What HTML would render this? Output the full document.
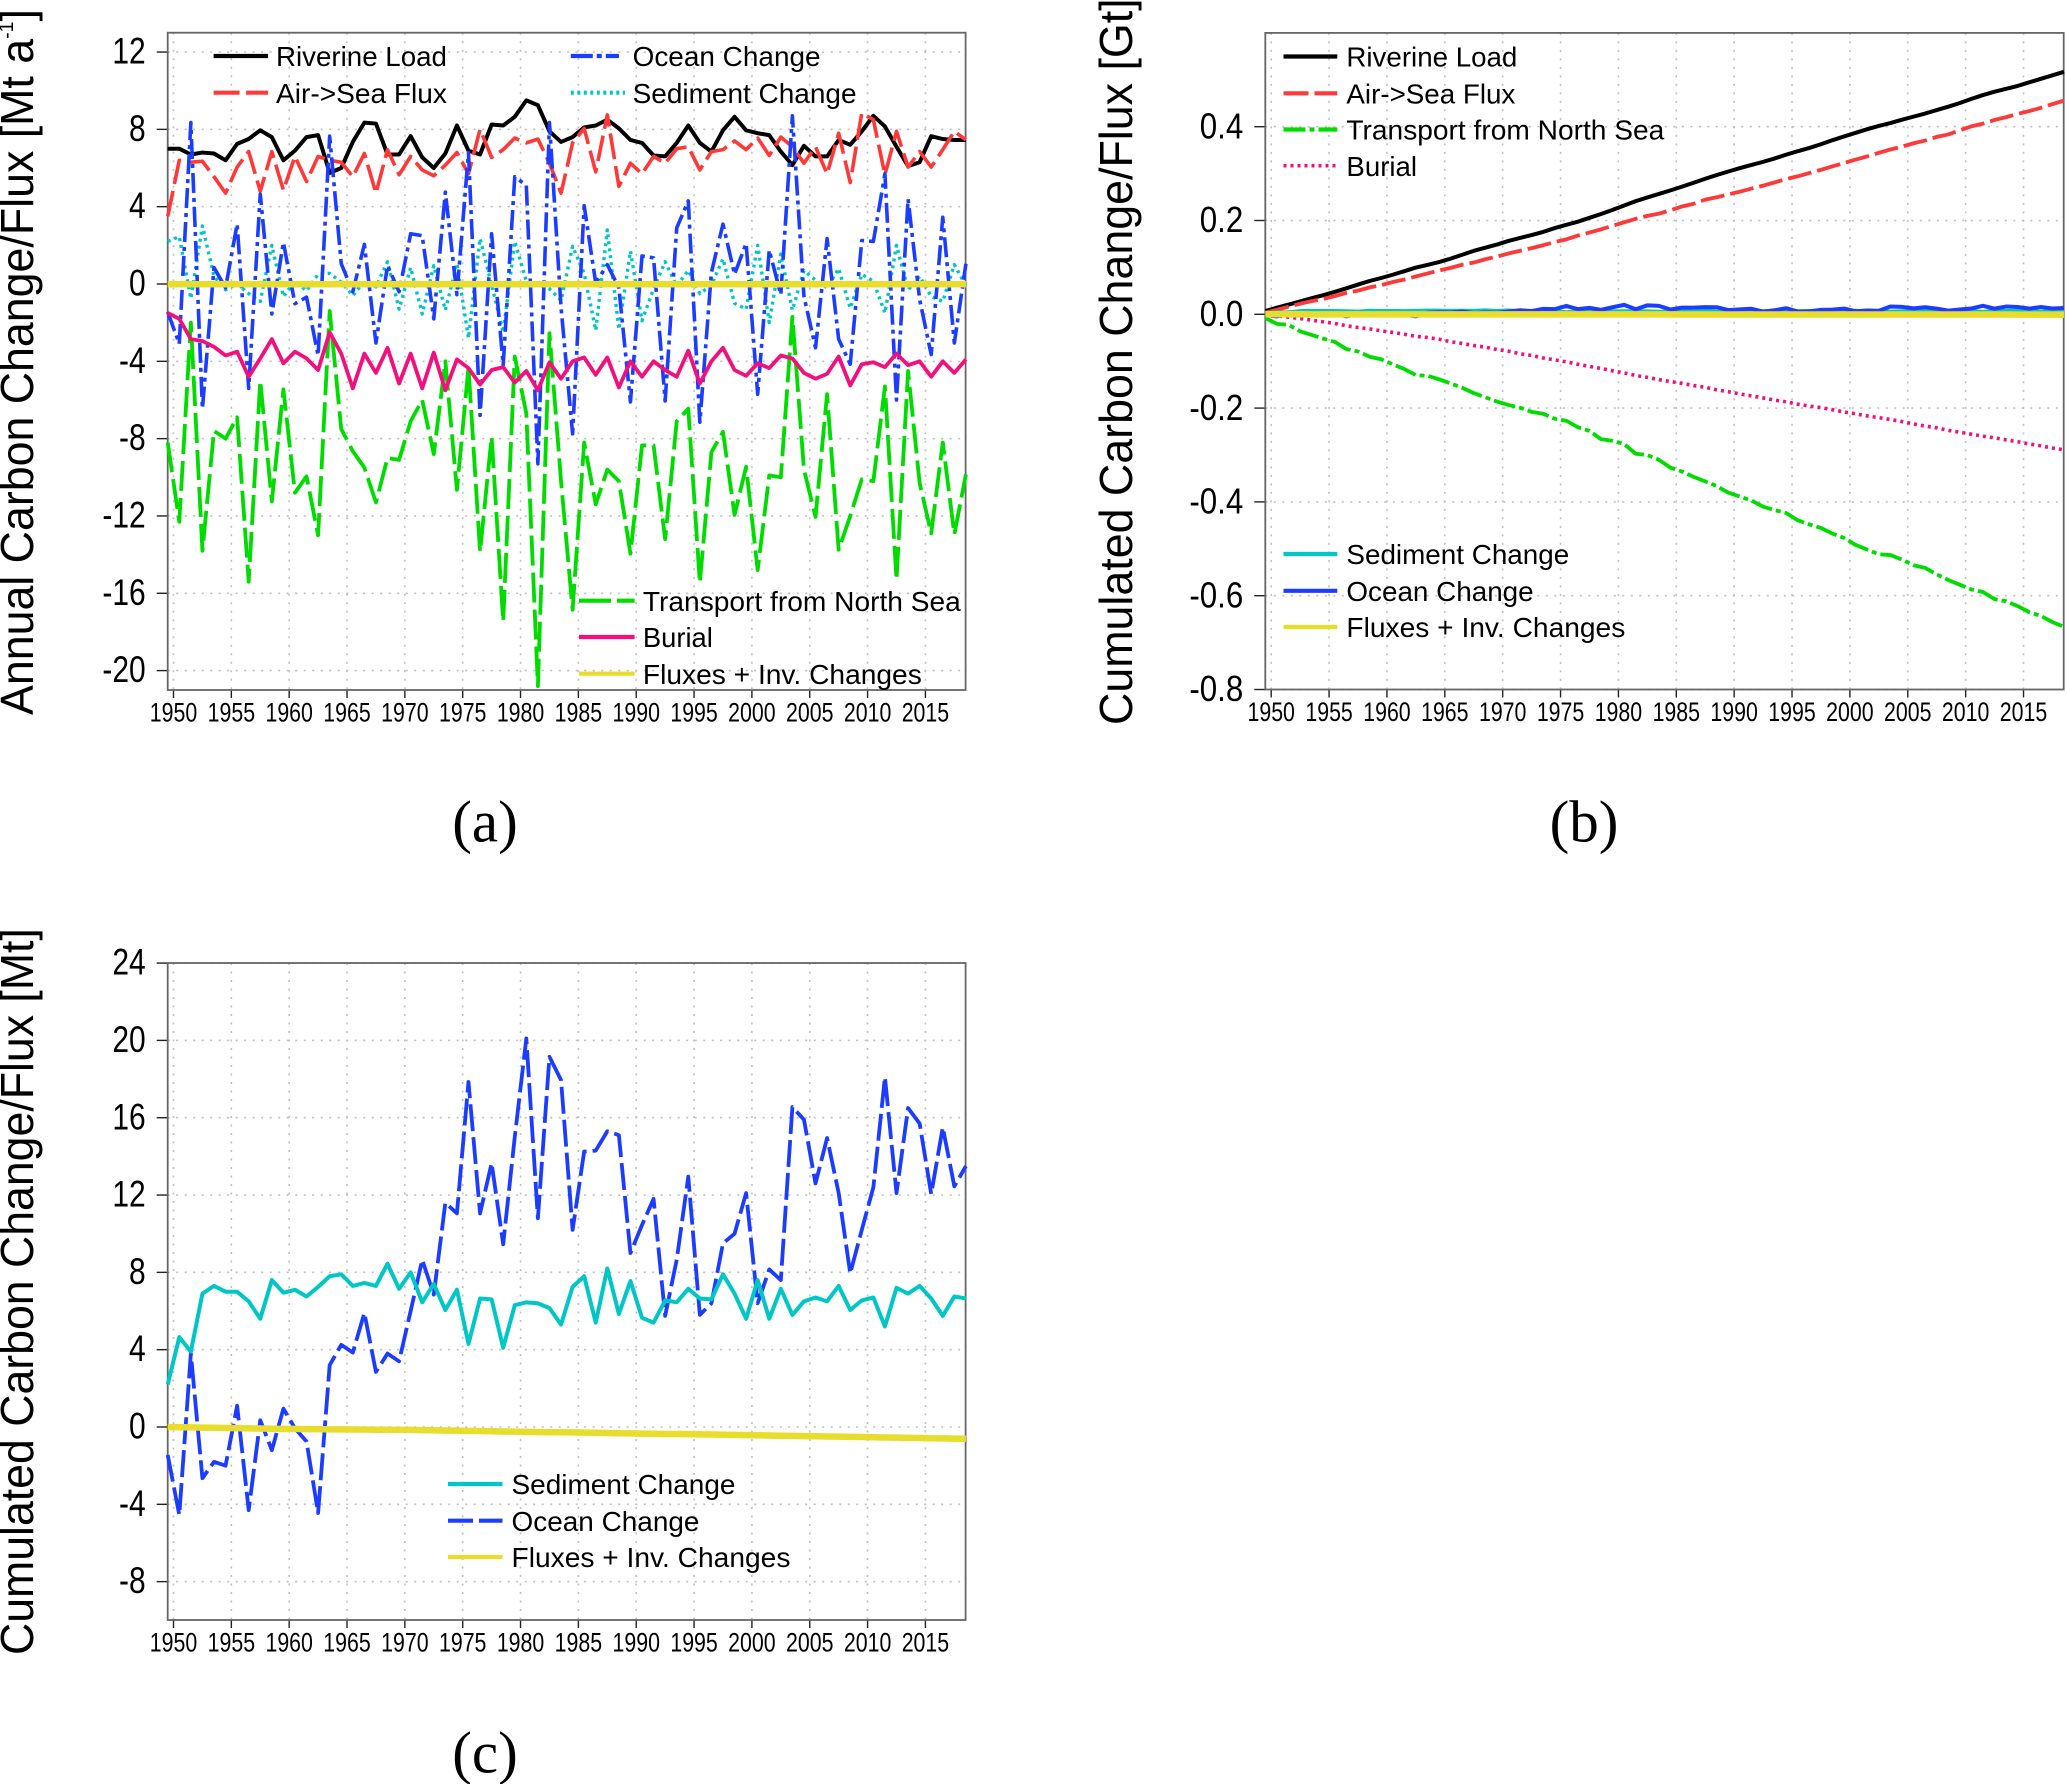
<!DOCTYPE html>
<html>
<head>
<meta charset="utf-8">
<title>Carbon change and flux charts</title>
<style>
html,body{margin:0;padding:0;background:#fff;}
svg{display:block;}
text{font-family:"Liberation Sans",sans-serif;fill:#000;}
.cap{font-family:"Liberation Serif",serif;}
</style>
</head>
<body>
<svg id="figure" xmlns="http://www.w3.org/2000/svg" width="2067" height="1784" viewBox="0 0 2067 1784">
<rect x="0" y="0" width="2067" height="1784" fill="#fff"/>
<text class="cap" x="485" y="841.5" font-size="59" text-anchor="middle">(a)</text>
<text class="cap" x="1584" y="841.5" font-size="59" text-anchor="middle">(b)</text>
<text class="cap" x="485" y="1772.5" font-size="59" text-anchor="middle">(c)</text>
</svg>
<script>
const startYear = 1949.5;
const xTickYears = [1950,1955,1960,1965,1970,1975,1980,1985,1990,1995,2000,2005,2010,2015];
const yTicksA = [12,8,4,0,-4,-8,-12,-16,-20];
const yTicksB = [0.4,0.2,0.0,-0.2,-0.4,-0.6,-0.8];
const yTickLabelsB = ["0.4","0.2","0.0","-0.2","-0.4","-0.6","-0.8"];
const yTicksC = [24,20,16,12,8,4,0,-4,-8];

const annualRiverine = [
7.0,7.0,6.7,6.8,6.75,6.4,7.25,7.5,7.95,7.6,
6.4,6.9,7.6,7.7,5.75,6.0,7.35,8.35,8.3,6.7,
6.7,7.65,6.55,6.0,6.75,8.2,6.9,6.7,8.25,8.2,
8.65,9.5,9.25,7.9,7.35,7.6,8.1,8.2,8.5,8.05,
7.45,7.3,6.65,6.6,7.3,8.2,7.3,6.85,7.95,8.65,
7.95,7.8,7.7,6.85,6.15,7.15,6.6,6.6,7.45,7.2,
7.9,8.7,8.15,7.1,6.1,6.3,7.65,7.5,7.45,7.45];
const annualAir = [
3.5,6.4,6.3,6.35,5.55,4.7,6.05,6.85,4.8,6.85,
4.85,6.6,5.3,6.6,6.4,6.3,5.55,6.75,4.7,6.95,
5.65,6.6,5.9,5.6,6.15,6.8,5.7,8.0,6.55,6.95,
7.55,7.3,7.5,6.25,4.7,7.3,8.05,5.8,8.75,5.05,
6.25,5.7,6.6,6.25,7.0,7.1,5.9,6.85,6.95,7.4,
6.95,7.55,6.65,7.6,7.1,6.25,7.1,5.7,7.8,5.25,
8.85,8.5,5.65,7.9,6.05,6.85,6.05,6.95,7.9,7.45];
const annualOcean = [
-1.45,-3.1,8.35,-6.45,0.85,-0.2,3.1,-5.4,4.65,-1.55,
2.15,-1.02,-0.68,-3.7,7.65,1.05,-0.4,2.05,-3.05,0.95,
-0.4,2.6,2.5,-1.8,4.75,-0.55,6.8,-6.8,2.6,-4.2,
5.55,5.1,-9.3,8.35,-1.2,-7.75,4.05,0.05,1.0,-0.2,
-6.1,1.45,1.35,-6.05,2.9,4.3,-7.15,0.6,3.1,0.5,
2.1,-5.7,1.75,-0.55,8.7,-0.65,-3.3,2.35,-2.85,-4.15,
2.25,2.2,5.7,-6.0,4.4,-0.8,-3.65,3.45,-3.05,1.05];
const annualSediment = [
2.2,2.45,-0.75,3.0,0.4,-0.3,0,-0.5,-0.9,2.0,
-0.65,0.15,-0.35,0.5,0.55,0.1,-0.6,0.15,-0.15,1.15,
-1.3,0.85,-1.55,0.95,-1.35,1.05,-2.8,2.35,-0.05,-2.5,
2.2,0.15,-0.05,-0.25,-0.85,1.95,0.55,-2.4,2.8,-2.35,
1.7,-1.9,-0.25,1.15,-0.1,0.7,-0.5,-0.05,1.3,-1.0,
-1.3,2.0,-2.0,1.55,-1.35,0.7,0.2,-0.2,0.8,-1.25,
0.5,0.15,-1.5,2.0,-0.3,0.4,-0.65,-0.9,1.0,-0.1];
const annualTransport = [
-8.2,-12.3,-2.0,-13.8,-7.6,-8.0,-6.9,-15.4,-5.0,-11.25,
-5.45,-10.8,-9.95,-13.0,-1.4,-7.5,-8.65,-9.5,-11.3,-9.0,
-9.1,-7.1,-6.0,-8.8,-4.0,-10.65,-4.3,-13.85,-7.9,-17.45,
-3.75,-6.7,-20.8,-2.55,-10.2,-16.85,-8.2,-11.4,-9.6,-10.2,
-13.95,-8.35,-8.35,-13.2,-7.1,-6.45,-15.45,-8.7,-7.65,-11.95,
-9.45,-14.8,-9.9,-10.0,-1.7,-9.6,-12.05,-5.7,-13.75,-12.0,
-10.1,-10.2,-5.3,-15.3,-4.5,-10.3,-12.9,-8.2,-12.95,-9.85];
const annualBurial = [
-1.5,-1.8,-2.85,-2.95,-3.25,-3.7,-3.5,-4.8,-3.85,-2.85,
-4.1,-3.5,-3.85,-4.45,-2.5,-3.6,-5.4,-3.6,-4.6,-3.3,
-5.15,-3.6,-5.4,-3.55,-5.5,-3.9,-4.35,-5.2,-4.45,-4.3,
-5.1,-4.5,-5.5,-4.05,-4.9,-4.0,-3.8,-4.7,-3.8,-5.35,
-4.0,-4.8,-4.0,-4.45,-4.8,-3.45,-5.15,-4.0,-3.3,-4.45,
-4.75,-4.1,-4.35,-3.7,-3.85,-4.6,-4.9,-4.65,-3.75,-5.25,
-4.15,-4.05,-4.3,-3.6,-4.2,-4.0,-4.8,-4.0,-4.6,-3.9];
const annualFluxes = [
-0.01,-0.01,-0.01,-0.01,-0.01,-0.01,-0.01,-0.01,-0.01,-0.01,
-0.01,-0.01,-0.01,-0.01,-0.01,-0.01,-0.01,-0.01,-0.01,-0.01,
-0.01,-0.01,-0.01,-0.01,-0.01,-0.01,-0.01,-0.01,-0.01,-0.01,
-0.01,-0.01,-0.01,-0.01,-0.01,-0.01,-0.01,-0.01,-0.01,-0.01,
-0.01,-0.01,-0.01,-0.01,-0.01,-0.01,-0.01,-0.01,-0.01,-0.01,
-0.01,-0.01,-0.01,-0.01,-0.01,-0.01,-0.01,-0.01,-0.01,-0.01,
-0.01,-0.01,-0.01,-0.01,-0.01,-0.01,-0.01,-0.01,-0.01,-0.01];

const cumRiverineGt = [
0.007,0.014,0.0207,0.0275,0.0343,0.0407,0.0479,0.0554,0.0634,0.071,
0.0774,0.0843,0.0919,0.0996,0.1053,0.1113,0.1187,0.127,0.1353,0.142,
0.1487,0.1564,0.1629,0.1689,0.1757,0.1839,0.1908,0.1975,0.2057,0.2139,
0.2226,0.2321,0.2413,0.2492,0.2566,0.2642,0.2723,0.2805,0.289,0.297,
0.3045,0.3118,0.3184,0.325,0.3323,0.3405,0.3478,0.3547,0.3626,0.3713,
0.3792,0.387,0.3947,0.4016,0.4077,0.4149,0.4215,0.4281,0.4355,0.4427,
0.4506,0.4593,0.4675,0.4746,0.4807,0.487,0.4946,0.5021,0.5096,0.517];
const cumAirGt = [
0.0035,0.0099,0.0162,0.0226,0.0281,0.0328,0.0389,0.0457,0.0505,0.0574,
0.0622,0.0688,0.0741,0.0807,0.0871,0.0934,0.099,0.1057,0.1104,0.1174,
0.123,0.1296,0.1355,0.1411,0.1473,0.1541,0.1598,0.1678,0.1743,0.1813,
0.1888,0.1961,0.2036,0.2099,0.2146,0.2219,0.2299,0.2357,0.2445,0.2495,
0.2558,0.2615,0.2681,0.2743,0.2813,0.2884,0.2943,0.3012,0.3081,0.3155,
0.3225,0.33,0.3367,0.3443,0.3514,0.3576,0.3647,0.3704,0.3782,0.3835,
0.3923,0.4008,0.4065,0.4144,0.4204,0.4273,0.4333,0.4403,0.4482,0.4556];
const cumTransportGt = [
-0.0082,-0.0205,-0.0225,-0.0363,-0.0439,-0.0519,-0.0588,-0.0742,-0.0792,-0.0905,
-0.0959,-0.1067,-0.1167,-0.1297,-0.1311,-0.1386,-0.1472,-0.1567,-0.168,-0.177,
-0.1861,-0.1932,-0.1992,-0.208,-0.212,-0.2227,-0.227,-0.2408,-0.2487,-0.2662,
-0.2699,-0.2766,-0.2974,-0.3,-0.3102,-0.327,-0.3352,-0.3466,-0.3562,-0.3664,
-0.3804,-0.3887,-0.3971,-0.4103,-0.4174,-0.4238,-0.4393,-0.448,-0.4556,-0.4676,
-0.477,-0.4918,-0.5017,-0.5117,-0.5134,-0.523,-0.5351,-0.5408,-0.5545,-0.5665,
-0.5766,-0.5868,-0.5921,-0.6074,-0.6119,-0.6222,-0.6351,-0.6433,-0.6563,-0.6661];
const cumBurialGt = [
-0.0015,-0.0033,-0.0062,-0.0091,-0.0124,-0.0161,-0.0196,-0.0244,-0.0282,-0.0311,
-0.0352,-0.0387,-0.0425,-0.047,-0.0495,-0.0531,-0.0585,-0.0621,-0.0667,-0.07,
-0.0751,-0.0787,-0.0841,-0.0877,-0.0932,-0.0971,-0.1014,-0.1066,-0.1111,-0.1154,
-0.1205,-0.125,-0.1305,-0.1345,-0.1394,-0.1434,-0.1472,-0.1519,-0.1557,-0.1611,
-0.1651,-0.1699,-0.1739,-0.1783,-0.1831,-0.1866,-0.1917,-0.1957,-0.199,-0.2035,
-0.2082,-0.2123,-0.2167,-0.2204,-0.2242,-0.2288,-0.2337,-0.2384,-0.2421,-0.2474,
-0.2515,-0.2556,-0.2599,-0.2635,-0.2677,-0.2717,-0.2765,-0.2805,-0.2851,-0.289];

const cumOceanMt = [
-1.45,-4.55,3.8,-2.65,-1.8,-2.0,1.1,-4.3,0.35,-1.2,
0.95,-0.07,-0.75,-4.45,3.2,4.25,3.85,5.9,2.85,3.8,
3.4,6.0,8.65,6.85,11.6,11.05,17.85,11.05,13.65,9.45,
15.0,20.1,10.8,19.15,17.95,10.2,14.25,14.3,15.3,15.1,
9.0,10.45,11.8,5.75,8.65,12.95,5.8,6.4,9.5,10.0,
12.1,6.4,8.15,7.6,16.55,15.9,12.6,14.95,12.1,7.95,
10.2,12.4,18.1,12.1,16.5,15.7,12.05,15.5,12.45,13.5];
const cumSedimentMt = [
2.2,4.65,3.9,6.9,7.3,7.0,7.0,6.5,5.6,7.6,
6.95,7.1,6.75,7.25,7.8,7.9,7.3,7.45,7.3,8.45,
7.15,8.0,6.45,7.4,6.05,7.1,4.3,6.65,6.6,4.1,
6.3,6.45,6.4,6.15,5.3,7.25,7.8,5.4,8.2,5.85,
7.55,5.65,5.4,6.55,6.45,7.15,6.65,6.6,7.9,6.9,
5.6,7.6,5.6,7.15,5.8,6.5,6.7,6.5,7.3,6.05,
6.55,6.7,5.2,7.2,6.9,7.3,6.65,5.75,6.75,6.65];
const cumFluxesMt = [
0,-0.01,-0.02,-0.03,-0.04,-0.05,-0.06,-0.07,-0.08,-0.09,
-0.1,-0.1,-0.11,-0.11,-0.12,-0.12,-0.13,-0.13,-0.14,-0.14,
-0.15,-0.15,-0.16,-0.17,-0.18,-0.19,-0.2,-0.21,-0.22,-0.23,
-0.24,-0.25,-0.26,-0.27,-0.27,-0.28,-0.29,-0.3,-0.31,-0.32,
-0.33,-0.34,-0.35,-0.36,-0.36,-0.37,-0.38,-0.39,-0.4,-0.41,
-0.42,-0.43,-0.44,-0.45,-0.46,-0.47,-0.48,-0.49,-0.5,-0.51,
-0.52,-0.53,-0.54,-0.55,-0.56,-0.57,-0.58,-0.59,-0.6,-0.61];

const NS = 'http://www.w3.org/2000/svg';
const root = document.getElementById('figure');
const BLACK = '#000', RED = '#ff3838', BLUE = '#1c3cff', TEAL = '#00c6c6', GREEN = '#00dc00', PINK = '#f2107c', YELLOW = '#e8dc2c';

function mk(tag, attrs, parent) {
  const e = document.createElementNS(NS, tag);
  for (const k in attrs) e.setAttribute(k, attrs[k]);
  (parent || root).appendChild(e);
  return e;
}
function fitWidth(textEl, cx, cy, target, anchor) {
  const natural = textEl.getComputedTextLength();
  const s = target / natural;
  textEl.setAttribute('transform', 'translate(' + cx + ',' + cy + ') scale(' + s + ',1)');
  textEl.setAttribute('text-anchor', anchor);
}

function drawPanel(p) {
  const group = mk('g', {});
  
  
  const sx = y => p.x1950 + (y - 1950) * p.perYear;
  const sy = v => p.y0 - v * p.perUnit;

  const plotBg = mk('rect', {x:p.left, y:p.top, width:p.right-p.left, height:p.bottom-p.top, fill:'#fff'}, group);
  
  

  xTickYears.forEach(yr => {
    const g = mk('line', {x1:sx(yr), x2:sx(yr), y1:p.top, y2:p.bottom, stroke:'#c0c0c0', 'stroke-width':1.6, 'stroke-dasharray':'2 6.5'}, group);
    
    
    const t = mk('line', {x1:sx(yr), x2:sx(yr), y1:p.bottom, y2:p.bottom+8, stroke:'#222', 'stroke-width':1.4}, group);
    
    
    const lab = mk('text', {'font-size':27, 'dominant-baseline':'central'}, group);
    lab.textContent = String(yr);
    
    
    lab.setAttribute('text-anchor', 'middle');
    lab.setAttribute('transform', 'translate(' + sx(yr) + ',' + (p.bottom + 23) + ') scale(0.79,1)');
  });

  p.yTicks.forEach((v, i) => {
    const g = mk('line', {x1:p.left, x2:p.right, y1:sy(v), y2:sy(v), stroke:'#c0c0c0', 'stroke-width':1.6, 'stroke-dasharray':'2 6.5'}, group);
    
    
    const t = mk('line', {x1:p.left-11, x2:p.left, y1:sy(v), y2:sy(v), stroke:'#222', 'stroke-width':1.4}, group);
    
    
    const lab = mk('text', {'font-size':p.yFont, 'dominant-baseline':'central', 'text-anchor':'end'}, group);
    lab.textContent = p.yLabels ? p.yLabels[i] : String(v);
    
    
    lab.setAttribute('transform', 'translate(' + (p.left - 22) + ',' + sy(v) + ') scale(' + p.yScale + ',1)');
  });

  const box = mk('rect', {x:p.left, y:p.top, width:p.right-p.left, height:p.bottom-p.top, fill:'none', stroke:'#666', 'stroke-width':1.8}, group);
  
  

  p.series.forEach(s => {
    const d = s.values.map((v, i) => (i ? 'L' : 'M') + sx(startYear + i).toFixed(2) + ' ' + sy(v).toFixed(2)).join(' ');
    const line = mk('path', {d:d, fill:'none', stroke:s.color, 'stroke-width':s.width, 'stroke-linejoin':'round', 'stroke-dasharray':s.dash || 'none'}, group);
    
    
  });

  p.legend.forEach(e => {
    const sw = mk('line', {x1:e.lx1, x2:e.lx2, y1:e.y, y2:e.y, stroke:e.color, 'stroke-width':e.lw || 4.2, 'stroke-dasharray':e.dash || 'none'}, group);
    
    
    const tx = mk('text', {'font-size':27.5, 'dominant-baseline':'central'}, group);
    tx.textContent = e.label;
    
    
    fitWidth(tx, e.tx, e.y + 0.7, e.w, 'start');
  });

  const yt = mk('text', {'font-size':46}, group);
  
  
  yt.appendChild(document.createTextNode(p.yTitle));
  if (p.yTitleSup) {
    const sup = mk('tspan', {'font-size':20, dy:-20}, yt);
    sup.textContent = p.yTitleSup;
    const tail = mk('tspan', {dy:20}, yt);
    tail.textContent = p.yTitleTail;
  }
  const natural = yt.getComputedTextLength();
  const ys = (p.titleBottom - p.titleTop) / natural;
  yt.setAttribute('transform', 'translate(' + p.titleX + ',' + p.titleBottom + ') rotate(-90) scale(' + ys + ',1)');
}

const leftA = 213.6, rightA = 268;
drawPanel({
  name:'panel-a-annual', left:167.7, right:965.6, top:32.7, bottom:690,
  x1950:173.5, perYear:11.568, y0:284, perUnit:19.33,
  yTicks:yTicksA, yFont:37, yScale:0.81,
  yTitle:'Annual Carbon Change/Flux [Mt a', yTitleSup:'-1', yTitleTail:']',
  titleX:33, titleTop:9, titleBottom:715,
  series:[
    {id:'riverine-load-line', values:annualRiverine, color:BLACK, width:4},
    {id:'air-sea-flux-line', values:annualAir, color:RED, width:3.6, dash:'26 7'},
    {id:'transport-north-sea-line', values:annualTransport, color:GREEN, width:3.8, dash:'30 7'},
    {id:'sediment-change-line', values:annualSediment, color:TEAL, width:3.4, dash:'3 4'},
    {id:'ocean-change-line', values:annualOcean, color:BLUE, width:3.6, dash:'20 5 4 5'},
    {id:'burial-line', values:annualBurial, color:PINK, width:3.8},
    {id:'fluxes-inv-changes-line', values:annualFluxes, color:YELLOW, width:6.5}
  ],
  legend:[
    {label:'Riverine Load', lx1:leftA, lx2:rightA, tx:276, y:56, w:171, color:BLACK},
    {label:'Air->Sea Flux', lx1:leftA, lx2:rightA, tx:276, y:92.7, w:171, color:RED, dash:'26 6.5'},
    {label:'Ocean Change', lx1:570.8, lx2:619, tx:632.6, y:56, w:188, color:BLUE, dash:'22 4 5 4'},
    {label:'Sediment Change', lx1:570.8, lx2:625, tx:632.6, y:92.7, w:224, color:TEAL, dash:'3 3.5'},
    {label:'Transport from North Sea', lx1:579, lx2:634.6, tx:642.9, y:600.7, w:318, color:GREEN, dash:'32 6'},
    {label:'Burial', lx1:579, lx2:634.6, tx:642.9, y:637, w:70, color:PINK},
    {label:'Fluxes + Inv. Changes', lx1:579, lx2:634.6, tx:642.9, y:673.7, w:279, color:YELLOW}
  ]
});

const leftB = 1283.5, rightB = 1337.3, textB = 1346.4;
drawPanel({
  name:'panel-b-cumulated-gt', left:1265.3, right:2063.7, top:32.9, bottom:689.5,
  x1950:1271.2, perYear:11.574, y0:314.3, perUnit:469,
  yTicks:yTicksB, yLabels:yTickLabelsB, yFont:36, yScale:0.87,
  yTitle:'Cumulated Carbon Change/Flux [Gt]',
  titleX:1132, titleTop:-2, titleBottom:725,
  series:[
    {id:'cumulated-riverine-load-line', values:cumRiverineGt, color:BLACK, width:4},
    {id:'cumulated-air-sea-flux-line', values:cumAirGt, color:RED, width:3.8, dash:'24 6'},
    {id:'cumulated-transport-line', values:cumTransportGt, color:GREEN, width:3.8, dash:'22 4 5 4'},
    {id:'cumulated-burial-line', values:cumBurialGt, color:PINK, width:3.6, dash:'3 4'},
    {id:'cumulated-sediment-line', values:cumSedimentMt.map(v => v / 1000), color:TEAL, width:4},
    {id:'cumulated-ocean-line', values:cumOceanMt.map(v => v / 1000), color:BLUE, width:4},
    {id:'cumulated-fluxes-line', values:cumFluxesMt.map(v => v / 1000), color:YELLOW, width:6.5}
  ],
  legend:[
    {label:'Riverine Load', lx1:leftB, lx2:rightB, tx:textB, y:56.5, w:171, color:BLACK},
    {label:'Air->Sea Flux', lx1:leftB, lx2:rightB, tx:textB, y:93.3, w:169, color:RED, dash:'25 6'},
    {label:'Transport from North Sea', lx1:leftB, lx2:rightB, tx:textB, y:129.5, w:318, color:GREEN, dash:'22 4 5 4'},
    {label:'Burial', lx1:leftB, lx2:rightB, tx:textB, y:165.7, w:70.7, color:PINK, dash:'3 4', lw:3.6},
    {label:'Sediment Change', lx1:leftB, lx2:rightB, tx:textB, y:554, w:223, color:TEAL},
    {label:'Ocean Change', lx1:leftB, lx2:rightB, tx:textB, y:590.8, w:187.4, color:BLUE},
    {label:'Fluxes + Inv. Changes', lx1:leftB, lx2:rightB, tx:textB, y:627, w:279, color:YELLOW}
  ]
});

drawPanel({
  name:'panel-c-cumulated-mt', left:167.7, right:965.6, top:963, bottom:1620,
  x1950:173.5, perYear:11.568, y0:1427, perUnit:19.33,
  yTicks:yTicksC, yFont:37, yScale:0.81,
  yTitle:'Cumulated Carbon Change/Flux [Mt]',
  titleX:33, titleTop:928, titleBottom:1655,
  series:[
    {id:'cumulated-ocean-line-mt', values:cumOceanMt, color:BLUE, width:3.8, dash:'27 6'},
    {id:'cumulated-sediment-line-mt', values:cumSedimentMt, color:TEAL, width:4},
    {id:'cumulated-fluxes-line-mt', values:cumFluxesMt, color:YELLOW, width:6.5}
  ],
  legend:[
    {label:'Sediment Change', lx1:448, lx2:502.5, tx:511.5, y:1484, w:224, color:TEAL},
    {label:'Ocean Change', lx1:448, lx2:502.5, tx:511.5, y:1520.7, w:188, color:BLUE, dash:'25 6'},
    {label:'Fluxes + Inv. Changes', lx1:448, lx2:502.5, tx:511.5, y:1557, w:279, color:YELLOW}
  ]
});
</script>
</body>
</html>
